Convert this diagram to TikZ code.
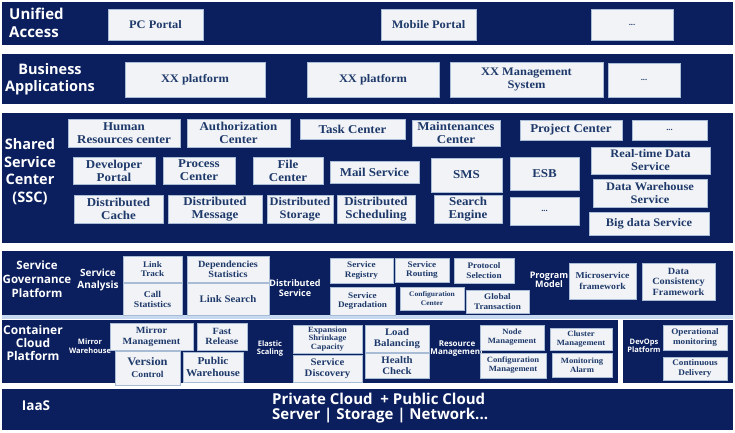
\documentclass[tikz,border=0pt]{standalone}
\usepackage{fontspec}
\newfontfamily\boxfont{Liberation Serif}[FakeStretch=1.08]
\newfontfamily\labfont{Open Sans}
\definecolor{navy}{HTML}{0B1F5E}
\definecolor{boxfill}{HTML}{F1F3F7}
\definecolor{boxline}{HTML}{A9BCD6}
\definecolor{boxtext}{HTML}{1F3A6A}
\definecolor{strip}{HTML}{C6D9F0}
\tikzset{
  box/.style={draw=boxline, fill=boxfill, text=boxtext, line width=0.6pt,
    align=center, inner sep=1pt, font=\boxfont\bfseries\fontsize{12}{13}\selectfont},
  fsz/.style 2 args={font=\boxfont\bfseries\fontsize{#1}{#2}\selectfont},
  lab/.style={text=white, align=center, inner sep=0pt},
  lsz/.style 2 args={font=\labfont\bfseries\fontsize{#1}{#2}\selectfont},
  band/.style={fill=navy}
}
\newcommand\bx[7][]{%
  \node[box,#1,minimum width={(#5-#3)*1pt},minimum height={(#6-#4)*1pt}] (#2) at ({(#3+#5)/2},{(#4+#6)/2}) {#7};}
\begin{document}
\begin{tikzpicture}[x=1pt,y=-1pt]
\useasboundingbox[fill=white] (0,0) rectangle (735,432);
% bands
\fill[band] (2,2) rectangle (733,45);
\fill[band] (2,54) rectangle (733,104);
\fill[band] (2,113) rectangle (733,243);
\fill[band] (2,251) rectangle (733,315);
\fill[strip] (2,315) rectangle (733,319);
\fill[band] (2,320) rectangle (618,383);
\fill[band] (623,320) rectangle (733,383);
\fill[band] (2,389) rectangle (733,430);
% ---- Unified Access
\node[lab,lsz={15}{18},anchor=west,align=left] (ua) at (9,23) {Unified\\Access};
\bx[fsz={11.5}{13}]{pc}{108}{9}{203}{40}{PC Portal}
\bx[fsz={11.5}{13}]{mob}{381}{9}{476}{40}{Mobile Portal}
\bx[fsz={8}{9}]{dotsa}{591}{9}{673}{40}{...}
% ---- Business Applications
\node[lab,lsz={14.5}{17}] (ba) at (50,79) {Business\\Applications};
\bx[fsz={11.5}{13}]{xxa}{125}{62}{265}{97}{XX platform}
\bx[fsz={11.5}{13}]{xxb}{307}{62}{439}{97}{XX platform}
\bx[fsz={11.5}{13}]{xxm}{450}{62}{603}{97}{XX Management\\System}
\bx[fsz={8}{9}]{dotsb}{608}{63}{680}{97}{...}
% ---- Shared Service Center
\node[lab,lsz={14.5}{17.7}] (ssc) at (30,171.5) {Shared\\Service\\Center\\(SSC)};
\bx{hr}{68}{119}{180}{147}{Human\\Resources center}
\bx{auth}{187}{119}{290}{147}{Authorization\\Center}
\bx{task}{300}{119}{405}{139}{Task Center}
\bx{maint}{412}{120}{500}{146}{Maintenances\\Center}
\bx{proj}{520}{120}{622}{140}{Project Center}
\bx[fsz={8}{9}]{dotsc}{632}{120}{707}{140}{...}
\bx{dev}{73}{157}{155}{184}{Developer\\Portal}
\bx{proc}{163}{157}{235}{184}{Process\\Center}
\bx{file}{253}{157}{323}{184}{File\\Center}
\bx{mail}{330}{161}{419}{183}{Mail Service}
\bx{sms}{431}{158}{502}{192}{SMS}
\bx{esb}{510}{157}{579}{190}{ESB}
\bx[fsz={11.5}{13}]{rt}{591}{147}{710}{174}{Real-time Data\\Service}
\bx{dc}{74}{195}{163}{223}{Distributed\\Cache}
\bx{dm}{168}{195}{262}{223}{Distributed\\Message}
\bx[fsz={11.5}{13}]{dst}{267}{195}{333}{223}{Distributed\\Storage}
\bx{dsch}{337}{195}{415}{223}{Distributed\\Scheduling}
\bx{se}{434}{195}{502}{223}{Search\\Engine}
\bx[fsz={8}{9}]{dotsd}{510}{197}{579}{225}{...}
\bx[fsz={11.5}{13}]{dw}{593}{179}{707}{207}{Data Warehouse\\Service}
\bx[fsz={11.5}{13}]{bd}{589}{212}{709}{235}{Big data Service}
% ---- Service Governance Platform
\node[lab,lsz={11.5}{14}] (sgp) at (37,279) {Service\\Governance\\Platform};
\node[lab,lsz={10}{11.5}] (sa) at (98,280) {Service\\Analysis};
\bx[fsz={8.5}{9.5}]{lt}{123}{256}{182}{282}{Link\\Track}
\bx[fsz={9}{10}]{cs}{123}{283}{182}{315}{Call\\Statistics}
\bx[fsz={9.5}{10}]{dep}{187}{256}{269}{282}{Dependencies\\Statistics}
\bx[fsz={10}{11}]{ls}{187}{283}{269}{315}{Link Search}
\node[lab,lsz={9}{10}] (dsv) at (295,288) {Distributed\\Service};
\bx[fsz={8.5}{9.5}]{sr}{330}{258}{393}{283}{Service\\Registry}
\bx[fsz={8.5}{9.5}]{sdg}{330}{287}{395}{315}{Service\\Degradation}
\bx[fsz={8.5}{9.5}]{srt}{395}{258}{449}{282}{Service\\Routing}
\bx[fsz={8.5}{9.5}]{ps}{454}{258}{514}{283}{Protocol\\Selection}
\bx[fsz={7}{8.5}]{cc}{400}{287}{464}{310}{Configuration\\Center}
\bx[fsz={8.5}{9.5}]{gt}{466}{290}{529}{313}{Global\\Transaction}
\node[lab,lsz={9}{9}] (pm) at (549,280) {Program\\Model};
\bx[fsz={9}{11}]{mf}{569}{263}{636}{299}{Microservice\\framework}
\bx[fsz={9.5}{10.5}]{dcf}{642}{263}{715}{300}{Data\\Consistency\\Framework}
% ---- Container Cloud Platform
\node[lab,lsz={12}{13}] (ccp) at (33,343) {Container\\Cloud\\Platform};
\node[lab,lsz={7.5}{8.5}] (mw) at (90,346) {Mirror\\Warehouse};
\node[lab,lsz={7.5}{8}] (es) at (270,349) {Elastic\\Scaling};
\node[lab,lsz={8}{8}] (rm) at (457,349) {Resource\\Management};
\node[lab,lsz={7.5}{8}] (dop) at (644,346) {DevOps\\Platform};
\bx[fsz={9.5}{10.5}]{mm}{110}{323}{193}{350}{Mirror\\Management}
\bx[fsz={9.5}{10.5}]{fr}{197}{323}{247}{350}{Fast\\Release}
\bx[fsz={9}{12}]{vc}{115}{351}{180}{385}{{\fontsize{11.5}{13}\selectfont Version}\\Control}
\bx[fsz={10.5}{11.5}]{pw}{183}{352}{243}{382}{Public\\Warehouse}
\bx[fsz={8}{8.5}]{esc}{293}{325}{362}{353}{Expansion\\Shrinkage\\Capacity}
\bx[fsz={10}{11}]{sd}{293}{355}{362}{382}{Service\\Discovery}
\bx[fsz={10}{11}]{lb}{365}{325}{429}{352}{Load\\Balancing}
\bx[fsz={10}{11}]{hc}{365}{353}{429}{378}{Health\\Check}
\bx[fsz={8}{9}]{nm}{480}{325}{544}{350}{Node\\Management}
\bx[fsz={8}{9}]{cm}{550}{328}{612}{350}{Cluster\\Management}
\bx[fsz={8}{9}]{cfm}{480}{353}{546}{378}{Configuration\\Management}
\bx[fsz={8}{9}]{ma}{552}{353}{612}{377}{Monitoring\\Alarm}
\bx[fsz={8.5}{9.5}]{om}{663}{325}{727}{350}{Operational\\monitoring}
\bx[fsz={8.5}{9.5}]{cd}{663}{357}{727}{380}{Continuous\\Delivery}
% ---- IaaS
\node[lab,lsz={13.5}{15}] (iaas) at (36,406) {IaaS};
\node[lab,lsz={15}{14.5},anchor=west,align=left] (cloud) at (272,408) {Private Cloud~~+ Public Cloud\\Server | Storage | Network...};
\end{tikzpicture}
\end{document}
